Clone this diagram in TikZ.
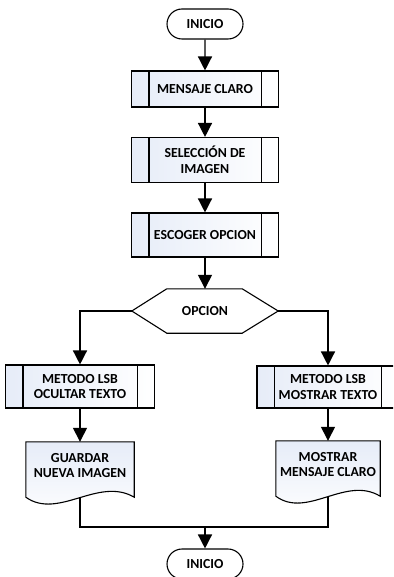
\documentclass[tikz,border=0pt]{standalone}
\usepackage{fontspec}
\setmainfont{Carlito}
\usetikzlibrary{arrows.meta,shapes.misc,calc,backgrounds}
\definecolor{boxblue}{HTML}{E6ECF8}
\newcommand{\docpath}[1]{%
  \path[draw,line width=1.1pt,top color=boxblue,bottom color=white]
    (#1.north west) -- (#1.north east) -- ($(#1.south east)+(0,8)$)
    .. controls ($(#1.south west)!0.67!(#1.south east)+(0,-13)$)
    and ($(#1.south west)!0.3!(#1.south east)+(0,31)$) .. ($(#1.south west)+(0,8)$) -- cycle;}
\begin{document}
\begin{tikzpicture}[x=1pt,y=-1pt,
  font=\fontsize{13.8}{15.5}\selectfont\bfseries,
  line/.style={line width=1.4pt},
  arr/.style={line width=1.4pt,-{Triangle[width=14pt,length=14pt]}},
  term/.style={draw,line width=1.1pt,rounded rectangle,minimum width=76pt,minimum height=30pt,inner sep=0pt,fill=white},
  proc/.style={draw,line width=1.1pt,rectangle,minimum width=147pt,inner sep=0pt,left color=boxblue,right color=white,align=center},
  docnode/.style={rectangle,inner sep=0pt,align=center},
  hexnode/.style={rectangle,inner sep=0pt,minimum width=146pt,minimum height=44pt}
]
\useasboundingbox (0,0) rectangle (393,577);
\clip (0,0) rectangle (393,577);

\node[term] (start) at (205,24) {INICIO};
\node[proc,minimum height=36pt] (m) at (205,89) {MENSAJE CLARO};
\node[proc,minimum height=45pt] (s) at (205,160) {SELECCIÓN DE\\IMAGEN};
\node[proc,minimum height=44pt] (e) at (205,235) {ESCOGER OPCION};
\node[hexnode] (o) at (205,311) {};
\path[draw,line width=1.1pt,fill=white] (o.west) -- ($(o.north west)+(35,0)$) -- ($(o.north east)+(-36,0)$)
  -- (o.east) -- ($(o.south east)+(-36,0)$) -- ($(o.south west)+(35,0)$) -- cycle;
\node at (o.center) {OPCION};
\node[proc,minimum width=149pt,minimum height=43pt] (l) at (80,386.5) {METODO LSB\\OCULTAR TEXTO};
\node[proc,minimum width=142pt,minimum height=42pt] (r) at (328,387) {METODO LSB\\MOSTRAR TEXTO};
\foreach \n in {m,s,e,l,r}{
  \draw[line width=1.1pt] ([xshift=18pt]\n.north west) -- ([xshift=18pt]\n.south west)
    ([xshift=-18pt]\n.north east) -- ([xshift=-18pt]\n.south east);
}
\node[docnode,minimum width=108pt,minimum height=47pt] (g) at (80,465.5) {};
\docpath{g}
\node[align=center] at (g.center) {GUARDAR\\NUEVA IMAGEN};
\node[docnode,minimum width=104pt,minimum height=47pt] (k) at (328,464.5) {};
\docpath{k}
\node[align=center] at (k.center) {MOSTRAR\\MENSAJE CLARO};
\node[term] (end) at (205,564) {INICIO};
\coordinate (j) at (205,527);

\draw[arr] (start) -- (m);
\draw[arr] (m) -- (s);
\draw[arr] (s) -- (e);
\draw[arr] (e) -- (o);
\draw[arr] (o.west) -| (l.north);
\draw[arr] (o.east) -| (r.north);
\draw[arr] (l) -- (g);
\draw[arr] (r) -- (k);
\begin{pgfonlayer}{background}
\draw[line] (g.south) -- (g.south |- j) -- (k.south |- j) -- (k.south);
\end{pgfonlayer}
\draw[arr] (j) -- (end);
\end{tikzpicture}
\end{document}
